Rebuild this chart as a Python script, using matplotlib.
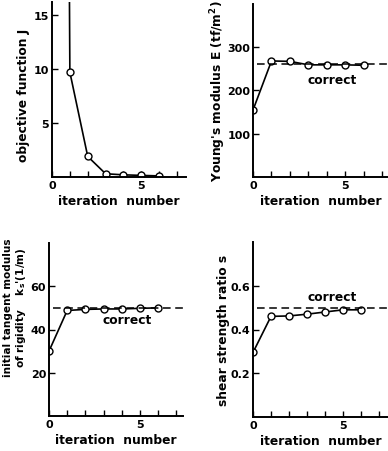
import matplotlib
matplotlib.use("Agg")
import matplotlib.pyplot as plt

iters = [0, 1, 2, 3, 4, 5, 6]

# objective function J (iteration 0 lies far off the top of the scale)
obj_j = [300.0, 9.7, 1.9, 0.3, 0.2, 0.15, 0.1]
young_e = [154, 267, 266, 258, 258, 258, 257]
young_correct = 260
tangent_ks = [30, 48.8, 49.3, 49.5, 49.5, 49.8, 50]
tangent_correct = 50
shear_s = [0.295, 0.46, 0.462, 0.47, 0.48, 0.49, 0.49]
shear_correct = 0.5

W, H = 388, 452
fig = plt.figure(figsize=(W / 100, H / 100), dpi=100)

tick_family = ["Liberation Sans Narrow", "DejaVu Sans"]
label_font = dict(family="DejaVu Sans", weight="bold", size=8.8)


def make_axes(left, bottom, right, top, xmax, ymax, yticks, ylabel, ylabel_x,
              ylabel_y=0.5, ylabel_size=8.8):
    ax = fig.add_axes([left / W, 1 - bottom / H, (right - left) / W, (bottom - top) / H])
    ax.set_xlim(0, xmax)
    ax.set_ylim(0, ymax)
    for side in ("top", "right"):
        ax.spines[side].set_visible(False)
    for side in ("left", "bottom"):
        ax.spines[side].set_linewidth(1.4)
    ax.set_xticks([0, 5])
    ax.set_xticks(iters + [7], minor=True)
    ax.set_yticks(yticks)
    ax.tick_params(direction="in", length=4, width=1.0, pad=2)
    ax.tick_params(which="minor", direction="in", length=4, width=1.0)
    for lab in ax.get_xticklabels() + ax.get_yticklabels():
        lab.set_fontfamily(tick_family)
        lab.set_fontweight("bold")
        lab.set_fontsize(8)
    ax.set_xlabel("iteration  number", labelpad=3, **label_font)
    ax.set_ylabel(ylabel, linespacing=1.1, family="DejaVu Sans", weight="bold",
                  size=ylabel_size)
    # ylabel anchor is the right edge of the rotated text
    ax.yaxis.set_label_coords((ylabel_x - left) / (right - left), ylabel_y)
    return ax


line_kw = dict(color="black", lw=1.2, marker="o", markersize=5,
               markerfacecolor="white", markeredgecolor="black", markeredgewidth=1.0,
               clip_on=True)
dash_kw = dict(color="black", lw=1.1, ls=(0, (5, 3)))

# top left: objective function
ax1 = make_axes(52, 178, 186, 3, 7.5, 16.2, [5, 10, 15], "objective function J", 30, 0.47)
ax1.plot(iters, obj_j, **line_kw)

# top right: Young's modulus
ax2 = make_axes(253, 178, 388, 5, 7.3, 398, [100, 200, 300],
                "Young's modulus E (tf/m$^\\mathbf{2}$)", 228, 0.5)
ax2.plot(iters, young_e, **line_kw)
ax2.axhline(young_correct, xmin=0.03, **dash_kw)
ax2.text(4.3, 225, "correct", ha="center", va="center", **label_font)

# bottom left: initial tangent modulus of rigidity
ax3 = make_axes(49, 417, 183, 244, 7.36, 80, [20, 40, 60],
                "initial tangent modulus\nof rigidity    k$_\\mathbf{s}$'(1/m)", 28, 0.63,
                ylabel_size=7.6)
ax3.plot(iters, tangent_ks, **line_kw)
ax3.axhline(tangent_correct, xmin=0.03, **dash_kw)
ax3.text(4.3, 44.5, "correct", ha="center", va="center", **label_font)

# bottom right: shear strength ratio
ax4 = make_axes(253, 418, 388, 243, 7.5, 0.8, [0.2, 0.4, 0.6],
                "shear strength ratio s", 230, 0.5)
ax4.plot(iters, shear_s, **line_kw)
ax4.axhline(shear_correct, xmin=0.03, **dash_kw)
ax4.text(4.4, 0.55, "correct", ha="center", va="center", **label_font)

fig.savefig("out.png", dpi=100)
